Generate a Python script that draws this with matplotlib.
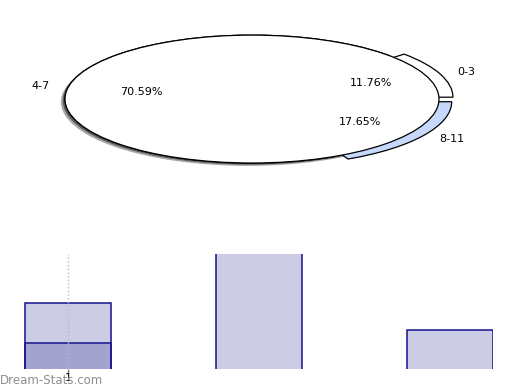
import matplotlib
matplotlib.use("Agg")
import matplotlib.pyplot as plt
from matplotlib.patches import Ellipse

# ---- data ----
pie_labels = ["0-3", "4-7", "8-11"]
pie_values = [2, 12, 3]
pie_colors = ["#ffffff", "#ffffff", "#c6d9fc"]
pie_explode = [0.08, 0, 0.08]

bar_positions = [1, 2, 3]
bar_values = [5, 12, 3]
overlay_positions = [1]
overlay_values = [2]
x_ticks = [1]
x_tick_labels = ["1"]

fig = plt.figure(figsize=(5.2, 3.9), dpi=100)

# ---- pie ----
axp = fig.add_axes([0.0351, 0.541, 0.899, 0.410])
wedges, texts, autotexts = axp.pie(
    pie_values, labels=pie_labels, colors=pie_colors, explode=pie_explode,
    startangle=0, counterclock=True, autopct="%.2f%%",
    pctdistance=0.6, labeldistance=1.1,
    wedgeprops=dict(edgecolor="black", linewidth=0.9),
    textprops=dict(fontsize=8, color="black"))
axp.set_aspect("auto")
axp.set_xlim(-1.25, 1.25)
axp.set_ylim(-1.25, 1.25)
for w in wedges:
    w.set_zorder(1)
# shadow and full main ellipse overlay
axp.add_patch(Ellipse((-0.022, -0.045), 2, 2, facecolor="#a8a8a8", edgecolor="none", zorder=0.4))
axp.add_patch(Ellipse((-0.012, -0.025), 2, 2, facecolor="#5a5a5a", edgecolor="none", zorder=0.5))
axp.add_patch(Ellipse((0, 0), 2, 2, facecolor="white", edgecolor="black", linewidth=0.9, zorder=1.5))
for t in texts + autotexts:
    t.set_zorder(3)

# ---- bars ----
axb = fig.add_axes([0.0, 0.0538, 493 / 520, 0.295])
axb.bar(bar_positions, bar_values, width=0.45, color=(0, 0, 0.5, 0.2),
        edgecolor="#14148c", linewidth=1.1, zorder=2)
axb.bar(overlay_positions, overlay_values, width=0.45, color=(0, 0, 0.5, 0.2),
        edgecolor="#14148c", linewidth=1.1, zorder=2)
axb.set_xlim(0.644, 3.225)
axb.set_ylim(0.05, 8.7)
axb.set_xticks(x_ticks)
axb.set_xticklabels(x_tick_labels, fontsize=8)
axb.set_yticks([])
axb.tick_params(axis="x", length=3, width=1, color="#777777", pad=0)
axb.grid(axis="x", linestyle=":", color="#bbbbbb", linewidth=1, zorder=3)
axb.set_axisbelow(False)
for s in axb.spines.values():
    s.set_visible(False)

fig.text(0.0, 0.025, "Dream-Stats.com", fontsize=8.5,
         color="#8f8f8f", ha="left", va="center")

fig.savefig("out.png", dpi=100)
